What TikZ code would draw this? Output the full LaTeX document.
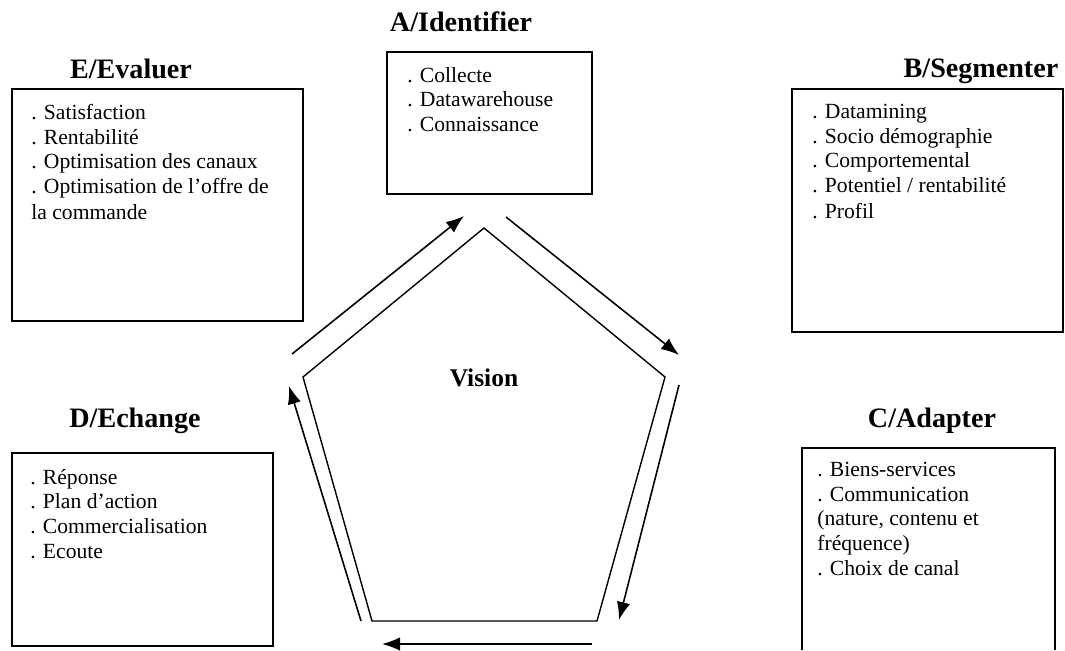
\documentclass[tikz,border=0pt]{standalone}
\usepackage{fontspec}
\setmainfont{Liberation Serif}
\usetikzlibrary{arrows.meta}
\tikzset{
  box/.style={line width=1pt},
  title/.style={font=\fontsize{16}{18}\selectfont\bfseries, anchor=base, inner sep=0pt},
  items/.style={font=\fontsize{12.3}{14}\selectfont, anchor=north west, align=left, inner sep=0pt},
  side/.style={line width=0.8pt},
  turn/.style={line width=0.9pt, -{Latex[length=3.6mm,width=2.7mm]}}
}
\begin{document}
\begin{tikzpicture}[x=0.02cm,y=-0.02cm]
    \useasboundingbox (0,0) rectangle (1065,650);
    % the five boxes
    \draw[box] (12,89) rectangle (303,321);
    \draw[box] (387,52) rectangle (592,194);
    \draw[box] (792,89) rectangle (1063,332);
    \draw[box] (12,453) rectangle (273,646);
    \draw[box] (802,650) -- (802,448) -- (1055,448) -- (1055,650);
    \node[title] (evaluer) at (131,78) {E/Evaluer};
    \node[title] (identifier) at (461,31) {A/Identifier};
    \node[title] (segmenter) at (981,77) {B/Segmenter};
    \node[title] (echange) at (135,427) {D/Echange};
    \node[title] (adapter) at (932,427) {C/Adapter};
    \node[items] (evaluerlist) at (31,104) {. Satisfaction\\. Rentabilité\\. Optimisation des canaux\\. Optimisation de l’offre de\\[1pt]la commande};
    \node[items] (identifierlist) at (407,67) {. Collecte\\. Datawarehouse\\. Connaissance};
    \node[items] (segmenterlist) at (812,104) {. Datamining\\. Socio démographie\\. Comportemental\\. Potentiel / rentabilité\\[1pt]. Profil};
    \node[items] (echangelist) at (30,469) {. Réponse\\. Plan d’action\\. Commercialisation\\. Ecoute};
    \node[items] (adapterlist) at (817,462) {. Biens-services\\. Communication\\(nature, contenu et\\fréquence)\\. Choix de canal};
    % pentagon
    \coordinate (pa) at (484,228);
    \coordinate (pb) at (665,377);
    \coordinate (pc) at (597,621);
    \coordinate (pd) at (372,621);
    \coordinate (pe) at (303,377);
    \draw[side] (pa) -- (pb) -- (pc) -- (pd) -- (pe) -- cycle;
    \node[font=\fontsize{14.5}{16}\selectfont\bfseries, anchor=base, inner sep=0pt] (vision) at (484,386) {Vision};
    % arrows round it
    \coordinate (ea0) at (292,354);
    \coordinate (ea1) at (464,216);
    \coordinate (ab0) at (506,217);
    \coordinate (ab1) at (679,355);
    \coordinate (bc0) at (679,385);
    \coordinate (bc1) at (619,620);
    \coordinate (cd0) at (592,644);
    \coordinate (cd1) at (382,644);
    \coordinate (de0) at (361,621);
    \coordinate (de1) at (289,386);
    \draw[turn] (ea0) -- (ea1);
    \draw[turn] (ab0) -- (ab1);
    \draw[turn] (bc0) -- (bc1);
    \draw[turn] (cd0) -- (cd1);
    \draw[turn] (de0) -- (de1);
\end{tikzpicture}
\end{document}
